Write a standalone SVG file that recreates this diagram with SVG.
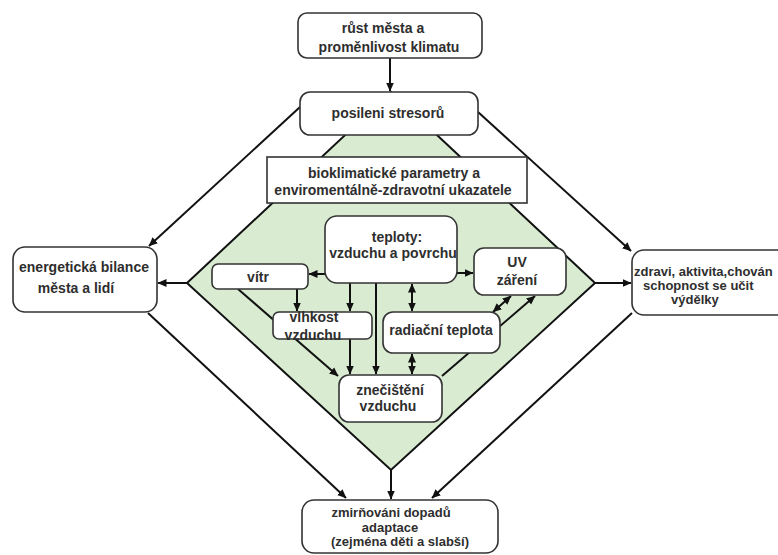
<svg xmlns="http://www.w3.org/2000/svg" width="778" height="555" viewBox="0 0 778 555">
<defs>
<marker id="ah" markerUnits="userSpaceOnUse" markerWidth="9" markerHeight="9" refX="8.5" refY="4.5" orient="auto-start-reverse">
<path d="M0,0.5 L9,4.5 L0,8.5 z" fill="#111"/>
</marker>
</defs>
<style>
.bx{fill:#fff;stroke:#333;stroke-width:1.6}
.t{font-family:"Liberation Sans",Arial,sans-serif;font-weight:bold;font-size:14px;fill:#2e2e2e;text-anchor:middle}
.ts{text-anchor:start}
.sm{font-size:13px}
.c{stroke:#111;stroke-width:2;fill:none;marker-end:url(#ah)}
.d{marker-start:url(#ah)}
</style>
<rect width="778" height="555" fill="#fff"/>
<polygon id="diamond" points="391,92 595,283 391,470 187,283" fill="#d9ecd2" stroke="#111" stroke-width="2"/>
<g id="connectors">
<line class="c" x1="390" y1="58" x2="390" y2="91"/>
<line class="c" x1="300" y1="107" x2="149" y2="246"/>
<line class="c" x1="478" y1="112" x2="631" y2="251"/>
<line class="c" x1="148" y1="313" x2="346" y2="498"/>
<line class="c" x1="632" y1="313" x2="432" y2="498"/>
<line class="c" x1="187" y1="283" x2="158" y2="283"/>
<line class="c" x1="595" y1="283" x2="631" y2="283"/>
<line class="c" x1="391" y1="470" x2="391" y2="499"/>
<line class="c" x1="325" y1="274" x2="309" y2="274"/>
<line class="c" x1="457" y1="273" x2="473" y2="273"/>
<line class="c" x1="297" y1="289" x2="297" y2="311"/>
<line class="c" x1="350" y1="283" x2="350" y2="311"/>
<line class="c" x1="376" y1="283" x2="376" y2="374"/>
<line class="c" x1="350" y1="339" x2="350" y2="374"/>
<line class="c d" x1="412" y1="284" x2="412" y2="311"/>
<line class="c d" x1="412" y1="354" x2="412" y2="374"/>
<line class="c d" x1="493" y1="312" x2="511" y2="296"/>
<line class="c" x1="442" y1="376" x2="535" y2="296"/>
<line class="c" x1="238" y1="289" x2="338" y2="376"/>
</g>
<g id="rust">
<rect class="bx" x="298" y="13" width="184" height="45" rx="9"/>
<text class="t" x="383" y="33">růst města a</text>
<text class="t" x="389" y="52">proměnlivost klimatu</text>
</g>
<g id="posileni">
<rect class="bx" x="300" y="92" width="178" height="43" rx="10"/>
<text class="t" x="388" y="118">posileni stresorů</text>
</g>
<g id="bioklima">
<rect class="bx" x="267" y="157" width="260" height="46"/>
<text class="t" x="394" y="178">bioklimatické parametry a</text>
<text class="t" x="393" y="195">enviromentálně-zdravotní ukazatele</text>
</g>
<g id="energeticka">
<rect class="bx" x="13" y="247" width="144" height="65" rx="12"/>
<text class="t" x="84" y="272">energetická bilance</text>
<text class="t" x="76" y="293">města a lidí</text>
</g>
<g id="zdravi">
<rect class="bx" x="632" y="250" width="170" height="65" rx="12"/>
<text class="t ts sm" x="634" y="276">zdravi, aktivita,chován</text>
<text class="t ts sm" x="643" y="290">schopnost se učit</text>
<text class="t ts sm" x="671" y="304">výdělky</text>
</g>
<g id="zmirnovani">
<rect class="bx" x="302" y="500" width="196" height="53" rx="12"/>
<text class="t sm" x="391" y="517">zmirňováni dopadů</text>
<text class="t sm" x="390" y="532">adaptace</text>
<text class="t sm" x="400" y="546">(zejména děti a slabší)</text>
</g>
<g id="teploty">
<rect class="bx" x="325" y="216" width="132" height="67" rx="12"/>
<text class="t" x="397" y="242">teploty:</text>
<text class="t" x="393" y="258">vzduchu a povrchu</text>
</g>
<g id="vitr">
<rect class="bx" x="212" y="264" width="96" height="25" rx="6"/>
<text class="t" x="258" y="282">vítr</text>
</g>
<g id="vlhkost">
<rect class="bx" x="273" y="312" width="99" height="27" rx="6"/>
<text class="t" x="314" y="322">vlhkost</text>
<text class="t" x="313" y="340">vzduchu</text>
</g>
<g id="znecisteni">
<rect class="bx" x="339" y="375" width="103" height="47" rx="10"/>
<text class="t" x="390" y="395">znečištění</text>
<text class="t" x="388" y="411">vzduchu</text>
</g>
<g id="uv">
<rect class="bx" x="474" y="248" width="92" height="47" rx="10"/>
<text class="t" x="517" y="267">UV</text>
<text class="t" x="517" y="285">záření</text>
</g>
<g id="radiacni">
<rect class="bx" x="383" y="312" width="117" height="41" rx="10"/>
<text class="t" x="441" y="335">radiační teplota</text>
</g>
</svg>
